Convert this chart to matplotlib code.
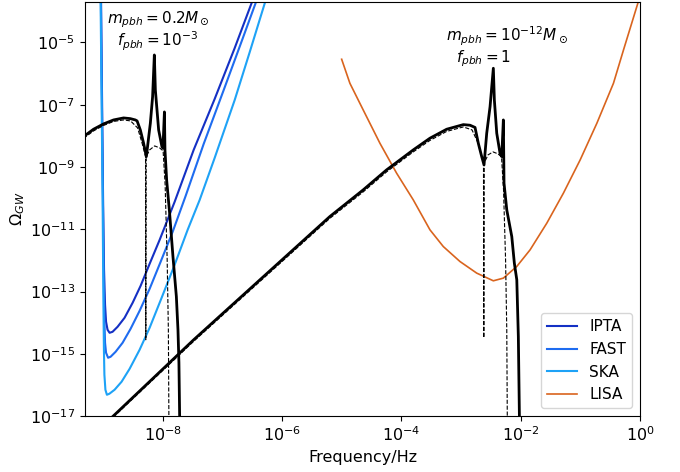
import matplotlib
matplotlib.use("Agg")
import matplotlib.pyplot as plt
from numpy import array

# all values as log10(frequency/Hz), log10(Omega_GW)

# detector sensitivity curves
ipta_logf = [-9.032, -9.015, -8.998, -8.982, -8.965, -8.948, -8.923, -8.889, -8.839, -8.755,
             -8.638, -8.503, -8.369, -8.218, -8.050, -7.799, -7.480, -7.128, -6.792, -6.490]
ipta_logo = [-3.636, -6.846, -10.056, -12.303, -13.427, -13.972, -14.229, -14.326, -14.294, -14.133,
             -13.844, -13.363, -12.817, -12.111, -11.340, -10.120, -8.451, -6.814, -5.177, -3.636]

fast_logf = [-9.035, -9.018, -9.001, -8.986, -8.976, -8.965, -8.948, -8.914, -8.872, -8.788,
             -8.671, -8.537, -8.386, -8.218, -8.034, -7.832, -7.614, -7.312, -6.976, -6.674, -6.423]
fast_logo = [-3.636, -6.846, -10.056, -12.625, -13.909, -14.647, -14.968, -15.128, -15.096, -14.936,
             -14.647, -14.198, -13.620, -12.914, -12.047, -11.083, -9.927, -8.258, -6.524, -4.952, -3.636]

ska_logf = [-9.040, -9.023, -9.006, -8.993, -8.984, -8.976, -8.959, -8.934, -8.893, -8.805,
            -8.688, -8.553, -8.386, -8.218, -8.017, -7.799, -7.581, -7.379, -7.128, -6.792, -6.540, -6.272]
ska_logo = [-3.636, -6.846, -10.056, -13.266, -14.872, -15.675, -16.156, -16.317, -16.285, -16.156,
            -15.899, -15.482, -14.872, -14.165, -13.202, -12.143, -11.019, -10.056, -8.708, -6.846, -5.305, -3.636]

lisa_logf = [-5.000, -4.862, -4.639, -4.359, -4.079, -3.800, -3.520, -3.297, -3.017, -2.737,
             -2.458, -2.290, -2.066, -1.842, -1.562, -1.284, -1.003, -0.723, -0.445, -0.277, -0.030]
lisa_logo = [-5.539, -6.310, -7.167, -8.236, -9.199, -10.056, -11.019, -11.555, -12.037, -12.409,
             -12.656, -12.570, -12.197, -11.661, -10.804, -9.841, -8.772, -7.594, -6.310, -5.241, -3.700]

# induced GW spectrum, m_pbh = 0.2 M_sun, f_pbh = 1e-3
heavy_logf = [-9.326, -9.158, -8.990, -8.822, -8.654, -8.542, -8.458, -8.428, -8.374, -8.319,
              -8.273, -8.206, -8.168, -8.139, -8.122, -8.067, -8.012, -7.995, -7.970, -7.961,
              -7.933, -7.883, -7.827, -7.770, -7.743, -7.727, -7.715, -7.713]
heavy_logo = [-8.024, -7.787, -7.616, -7.488, -7.424, -7.446, -7.488, -7.520, -7.809, -8.236,
              -8.666, -7.594, -6.740, -5.401, -6.525, -7.809, -8.345, -8.396, -7.231, -8.451,
              -9.414, -10.483, -11.876, -13.161, -14.230, -15.289, -17.013, -17.5]
heavy_approx_logf = [-9.326, -9.158, -8.990, -8.822, -8.654, -8.537, -8.419, -8.336, -8.285, -8.282,
                     -8.277, -8.218, -8.134, -8.050, -7.992, -7.958, -7.924, -7.904, -7.894]
heavy_approx_logo = [-8.082, -7.841, -7.665, -7.536, -7.488, -7.520, -7.745, -8.291, -8.676, -14.551,
                     -8.676, -8.451, -8.323, -8.387, -8.483, -9.575, -11.982, -14.229, -17.44]

# induced GW spectrum, m_pbh = 1e-12 M_sun, f_pbh = 1
light_logf = [-8.900, -8.834, -7.480, -5.198, -4.639, -4.247, -3.800, -3.520, -3.240, -2.961,
              -2.849, -2.765, -2.710, -2.653, -2.614, -2.569, -2.513, -2.458, -2.441, -2.401,
              -2.346, -2.317, -2.290, -2.279, -2.233, -2.149, -2.106, -2.065, -2.039, -2.022, -2.018]
light_logo = [-17.13, -17.013, -14.551, -10.592, -9.735, -9.093, -8.451, -8.075, -7.787, -7.639,
              -7.658, -7.729, -8.236, -8.666, -8.933, -7.915, -7.061, -5.828, -6.846, -7.915,
              -8.557, -8.666, -7.488, -9.520, -10.377, -11.234, -12.088, -12.624, -14.444, -16.894, -17.44]
light_approx_logf = [-8.900, -8.834, -7.480, -5.198, -4.639, -4.247, -3.800, -3.520, -3.240, -2.961,
                     -2.815, -2.715, -2.623, -2.618, -2.611, -2.547, -2.463, -2.379, -2.321, -2.287,
                     -2.253, -2.233, -2.223]
light_approx_logo = [-17.17, -17.05, -14.60, -10.65, -9.80, -9.157, -8.515, -8.146, -7.857, -7.713,
                     -7.809, -8.226, -8.868, -14.486, -8.868, -8.612, -8.515, -8.579, -8.676, -9.735,
                     -11.982, -14.229, -17.44]


def pw(vals):
    return 10.0 ** array(vals)


fig = plt.figure(figsize=(6.8, 4.72), dpi=100)
ax = fig.add_axes([0.125, 0.1186, 0.8162, 0.8772])

ax.plot(pw(ipta_logf), pw(ipta_logo), color="#1430c4", lw=1.5, label="IPTA")
ax.plot(pw(fast_logf), pw(fast_logo), color="#1e6cf0", lw=1.5, label="FAST")
ax.plot(pw(ska_logf), pw(ska_logo), color="#1ea2f6", lw=1.5, label="SKA")
ax.plot(pw(lisa_logf), pw(lisa_logo), color="#d9641e", lw=1.2, label="LISA")

ax.plot(pw(heavy_approx_logf), pw(heavy_approx_logo), "k--", lw=0.8)
ax.plot(pw(light_approx_logf), pw(light_approx_logo), "k--", lw=0.8)
ax.plot(pw(heavy_logf), pw(heavy_logo), "k-", lw=2)
ax.plot(pw(light_logf), pw(light_logo), "k-", lw=2)

ax.set_xscale("log")
ax.set_yscale("log")
ax.set_xlim(5e-10, 1)
ax.set_ylim(1e-17, 2e-4)
ax.set_xticks([1e-8, 1e-6, 1e-4, 1e-2, 1e0])
ax.set_yticks([1e-17, 1e-15, 1e-13, 1e-11, 1e-9, 1e-7, 1e-5])
ax.minorticks_off()
ax.tick_params(labelsize=11.5)

ax.set_xlabel("Frequency/Hz", fontsize=11.5)
ax.set_ylabel(r"$\Omega_{GW}$", fontsize=11.5, labelpad=2)

ax.text(8.4e-9, 5.3e-5, r"$m_{pbh}=0.2M_\odot$", fontsize=11, ha="center", va="center")
ax.text(8.4e-9, 1.08e-5, r"$f_{pbh}=10^{-3}$", fontsize=11, ha="center", va="center")
ax.text(5.9e-3, 1.6e-5, r"$m_{pbh}=10^{-12}M_\odot$", fontsize=11, ha="center", va="center")
ax.text(2.43e-3, 3.1e-6, r"$f_{pbh}=1$", fontsize=11, ha="center", va="center")

ax.legend(loc="lower right", fontsize=11)

fig.savefig("out.png", dpi=100)
